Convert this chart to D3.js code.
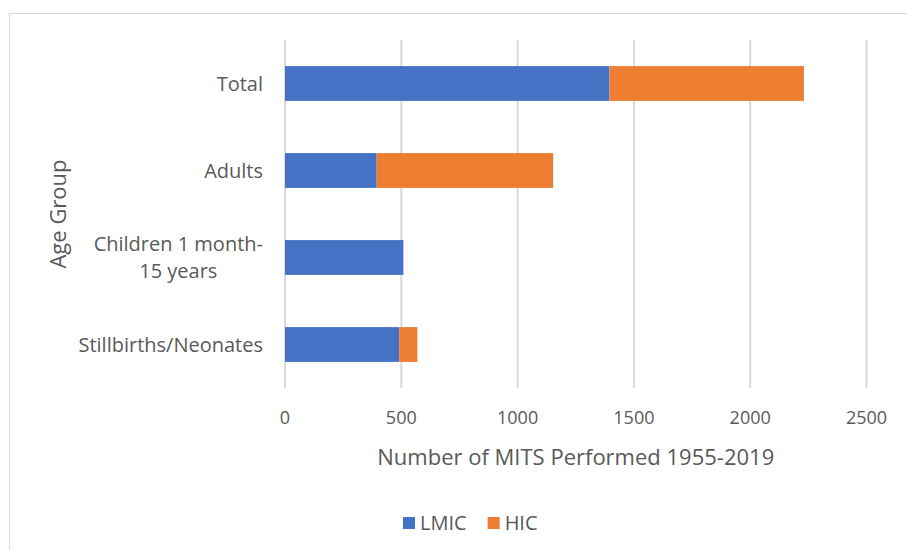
<!DOCTYPE html>
<html>
<head>
<meta charset="utf-8">
<script src="https://cdn.jsdelivr.net/npm/d3@7"></script>
<style>
  body { margin: 0; background: #fff; }
  svg text { font-family: "Open Sans", sans-serif; fill: #595959; }
</style>
</head>
<body>
<svg width="907" height="550"></svg>
<script>
// data
const categories = ["Total", "Adults", "Children 1 month-\n15 years", "Stillbirths/Neonates"];
const seriesNames = ["LMIC", "HIC"];
const lmicValues = [1395, 394, 509, 491];
const hicValues = [836, 759, 0, 78];
const xTicks = [0, 500, 1000, 1500, 2000, 2500];
const colors = ["#4472C4", "#ED7D31"];

const svg = d3.select("svg");

// chart border (right/bottom edges fall outside the picture)
svg.append("rect")
  .attr("x", 9.5).attr("y", 13.5)
  .attr("width", 930).attr("height", 560)
  .attr("fill", "none")
  .attr("stroke", "#d9d9d9");

const rows = categories.map((c, i) => ({cat: c, LMIC: lmicValues[i], HIC: hicValues[i]}));

const x = d3.scaleLinear()
  .domain([0, 2500])
  .range([285, 866.5]);

const y = d3.scaleBand()
  .domain(categories)
  .range([40, 388])
  .paddingInner(0.6)
  .paddingOuter(0.3);

// gridlines
svg.append("g")
  .selectAll("line")
  .data(xTicks)
  .join("line")
    .attr("x1", d => x(d)).attr("x2", d => x(d))
    .attr("y1", 40).attr("y2", 388)
    .attr("stroke", "#d9d9d9")
    .attr("stroke-width", 2);

// bars
const stacked = d3.stack().keys(seriesNames)(rows);
svg.append("g")
  .selectAll("g")
  .data(stacked)
  .join("g")
    .attr("fill", (d, i) => colors[i])
  .selectAll("rect")
  .data(d => d)
  .join("rect")
    .attr("x", d => x(d[0]))
    .attr("y", d => y(d.data.cat))
    .attr("width", d => x(d[1]) - x(d[0]))
    .attr("height", y.bandwidth());

// x tick labels
svg.append("g")
  .selectAll("text")
  .data(xTicks)
  .join("text")
    .attr("x", d => x(d))
    .attr("y", 418)
    .attr("dy", "0.35em")
    .attr("text-anchor", "middle")
    .style("font-size", "18px")
    .text(d => d);

// category labels
const catLabels = svg.append("g")
  .selectAll("text")
  .data(categories)
  .join("text")
    .style("font-size", "20px")
    .attr("text-anchor", "end")
    .attr("x", 263)
    .attr("y", d => y(d) + y.bandwidth() / 2)
    .attr("dy", "0.35em")
    .text(d => d.split("\n").length > 1 ? "" : d);

// wrapped label: lines centered under the widest one
catLabels.filter(d => d.includes("\n")).each(function(d) {
  const lines = d.split("\n");
  const t = d3.select(this).attr("text-anchor", "middle");
  const cy = y(d) + y.bandwidth() / 2;
  lines.forEach((l, i) => {
    t.append("tspan")
      .attr("x", 0)
      .attr("y", cy + (i - (lines.length - 1) / 2) * 27)
      .attr("dy", "0.35em")
      .text(l);
  });
  const w = d3.max(t.selectAll("tspan").nodes(), n => n.getComputedTextLength());
  t.selectAll("tspan").attr("x", 263 - w / 2);
});

// axis titles
svg.append("text")
  .attr("x", (x(0) + x(2500)) / 2)
  .attr("y", 457)
  .attr("dy", "0.35em")
  .attr("text-anchor", "middle")
  .style("font-size", "22px")
  .text("Number of MITS Performed 1955-2019");

svg.append("text")
  .attr("transform", "translate(58,214) rotate(-90)")
  .attr("dy", "0.35em")
  .attr("text-anchor", "middle")
  .style("font-size", "22px")
  .text("Age Group");

// legend
const legend = svg.append("g");
let lx = 403;
seriesNames.forEach((s, i) => {
  legend.append("rect")
    .attr("x", lx).attr("y", 517)
    .attr("width", 12).attr("height", 12)
    .attr("fill", colors[i]);
  const t = legend.append("text")
    .attr("x", lx + 17).attr("y", 523)
    .attr("dy", "0.35em")
    .style("font-size", "20px")
    .text(s);
  lx += 17 + t.node().getComputedTextLength() + 21;
});
</script>
</body>
</html>
